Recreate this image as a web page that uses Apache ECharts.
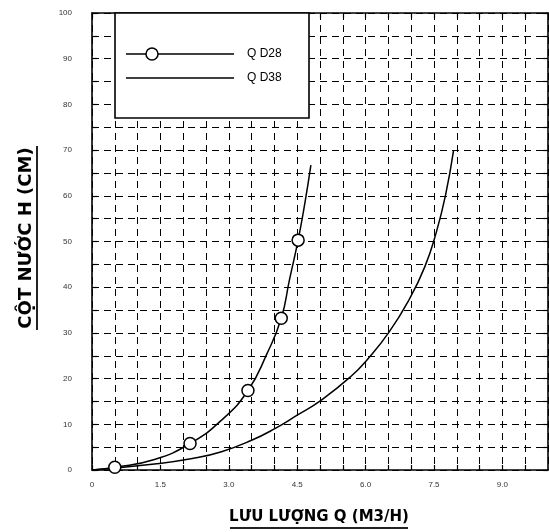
<!DOCTYPE html>
<html>
<head>
<meta charset="utf-8">
<script src="https://cdn.jsdelivr.net/npm/echarts@6/dist/echarts.min.js"></script>
<style>html,body{margin:0;padding:0;background:#fff;}#c{width:549px;height:532px;}</style>
</head>
<body>
<div id="c"></div>
<script>
// ---- data ----
const xTickValues = [0, 1.5, 3, 4.5, 6, 7.5, 9];
const xTickLabels = ['0', '1.5', '3.0', '4.5', '6.0', '7.5', '9.0'];
const yTickValues = [0, 10, 20, 30, 40, 50, 60, 70, 80, 90, 100];
const yTickLabels = ['0', '10', '20', '30', '40', '50', '60', '70', '80', '90', '100'];

const seriesNames = ['Q D28', 'Q D38'];

// Q D28 curve (Q m3/h, H cm)
const d28CurveQ = [0, 0.5, 1.37, 2.15, 2.84, 3.42, 3.83, 4.15, 4.33, 4.52, 4.67, 4.8];
const d28CurveH = [0, 0.6, 2.3, 5.8, 10.9, 17.4, 25.3, 33.2, 41.6, 50.3, 58.5, 66.7];
// Q D28 measured points (circles)
const d28PointQ = [0.5, 2.15, 3.42, 4.15, 4.52];
const d28PointH = [0.6, 5.8, 17.4, 33.2, 50.3];
// Q D38 curve
const d38CurveQ = [0, 1.37, 2.2, 2.84, 3.5, 4.0, 4.5, 5.03, 5.67, 6.04, 6.51, 6.95, 7.3, 7.55, 7.75, 7.93];
const d38CurveH = [0, 1.3, 2.5, 4.0, 6.5, 9.0, 12.0, 15.3, 20.4, 24.2, 30.1, 37.2, 44.5, 52.0, 60.0, 70.0];

const xTitle = 'LƯU LƯỢNG Q (M3/H)';
const yTitle = 'CỘT NƯỚC H (CM)';

// ---- build ----
const zip = (a, b) => a.map((v, i) => [v, b[i]]);
const pick = (vals, labels) => v => {
  for (let i = 0; i < vals.length; i++) if (Math.abs(v - vals[i]) < 1e-6) return labels[i];
  return '';
};

const chart = echarts.init(document.getElementById('c'), null, {renderer: 'canvas'});
const G = {left: 92, right: 1, top: 13, bottom: 62};
const gridLine = {show: true, lineStyle: {color: '#000', width: 1, type: [7, 5]}};
const axLine = {show: true, onZero: false, lineStyle: {color: '#000', width: 1.6}};
const tick = {show: true, inside: true, length: 5, lineStyle: {color: '#000', width: 1.2}};
const labFont = {fontFamily: 'Liberation Sans', fontSize: 8, color: '#333'};

const option = {
  backgroundColor: '#fff',
  animation: false,
  grid: G,
  xAxis: [
    {type: 'value', min: 0, max: 10, interval: 0.5, position: 'bottom',
     axisLine: axLine, axisTick: tick, splitLine: gridLine,
     axisLabel: Object.assign({margin: 11, formatter: pick(xTickValues, xTickLabels), showMaxLabel: false}, labFont)},
    {type: 'value', min: 0, max: 10, interval: 0.5, position: 'top',
     axisLine: axLine, axisTick: tick, splitLine: {show: false}, axisLabel: {show: false}}
  ],
  yAxis: [
    {type: 'value', min: 0, max: 100, interval: 5, position: 'left',
     axisLine: axLine, axisTick: tick, splitLine: gridLine,
     axisLabel: Object.assign({margin: 20, formatter: pick(yTickValues, yTickLabels)}, labFont)},
    {type: 'value', min: 0, max: 100, interval: 5, position: 'right',
     axisLine: axLine, axisTick: tick, splitLine: {show: false}, axisLabel: {show: false}}
  ],
  series: [
    {name: seriesNames[0], type: 'line', data: zip(d28CurveQ, d28CurveH), smooth: 0.5,
     showSymbol: false, lineStyle: {color: '#000', width: 1.5}, z: 5},
    {name: seriesNames[0], type: 'scatter', data: zip(d28PointQ, d28PointH), symbol: 'circle', symbolSize: 12,
     itemStyle: {color: '#fff', borderColor: '#000', borderWidth: 1.5, opacity: 1}, z: 6},
    {name: seriesNames[1], type: 'line', data: zip(d38CurveQ, d38CurveH), smooth: 0.5,
     showSymbol: false, lineStyle: {color: '#000', width: 1.5}, z: 5}
  ],
  graphic: [
    // legend box
    {type: 'rect', shape: {x: 115, y: 13, width: 194, height: 105}, z: 100,
     style: {fill: '#fff', stroke: '#000', lineWidth: 1.6}},
    {type: 'line', shape: {x1: 126, y1: 54, x2: 234, y2: 54}, z: 101, style: {stroke: '#000', lineWidth: 1.5}},
    {type: 'circle', shape: {cx: 152, cy: 54, r: 6}, z: 102, style: {fill: '#fff', stroke: '#000', lineWidth: 1.5}},
    {type: 'text', x: 247, y: 54, z: 101, style: {text: seriesNames[0], fill: '#000', font: '12px "Liberation Sans"', verticalAlign: 'middle'}},
    {type: 'line', shape: {x1: 126, y1: 78, x2: 234, y2: 78}, z: 101, style: {stroke: '#000', lineWidth: 1.5}},
    {type: 'text', x: 247, y: 78, z: 101, style: {text: seriesNames[1], fill: '#000', font: '12px "Liberation Sans"', verticalAlign: 'middle'}},
    // axis titles
    {type: 'text', x: 319, y: 517, z: 50, style: {text: xTitle, fill: '#000', font: 'bold 15px "DejaVu Sans"', align: 'center', verticalAlign: 'middle'}},
    {type: 'line', shape: {x1: 230, y1: 528, x2: 408, y2: 528}, z: 50, style: {stroke: '#222', lineWidth: 2}},
    {type: 'text', x: 26, y: 238, rotation: Math.PI / 2, z: 50, style: {text: yTitle, fill: '#000', font: 'bold 18px "DejaVu Sans"', align: 'center', verticalAlign: 'middle'}},
    {type: 'line', shape: {x1: 37, y1: 146, x2: 37, y2: 330}, z: 50, style: {stroke: '#222', lineWidth: 2}}
  ]
};
chart.setOption(option);
</script>
</body>
</html>
